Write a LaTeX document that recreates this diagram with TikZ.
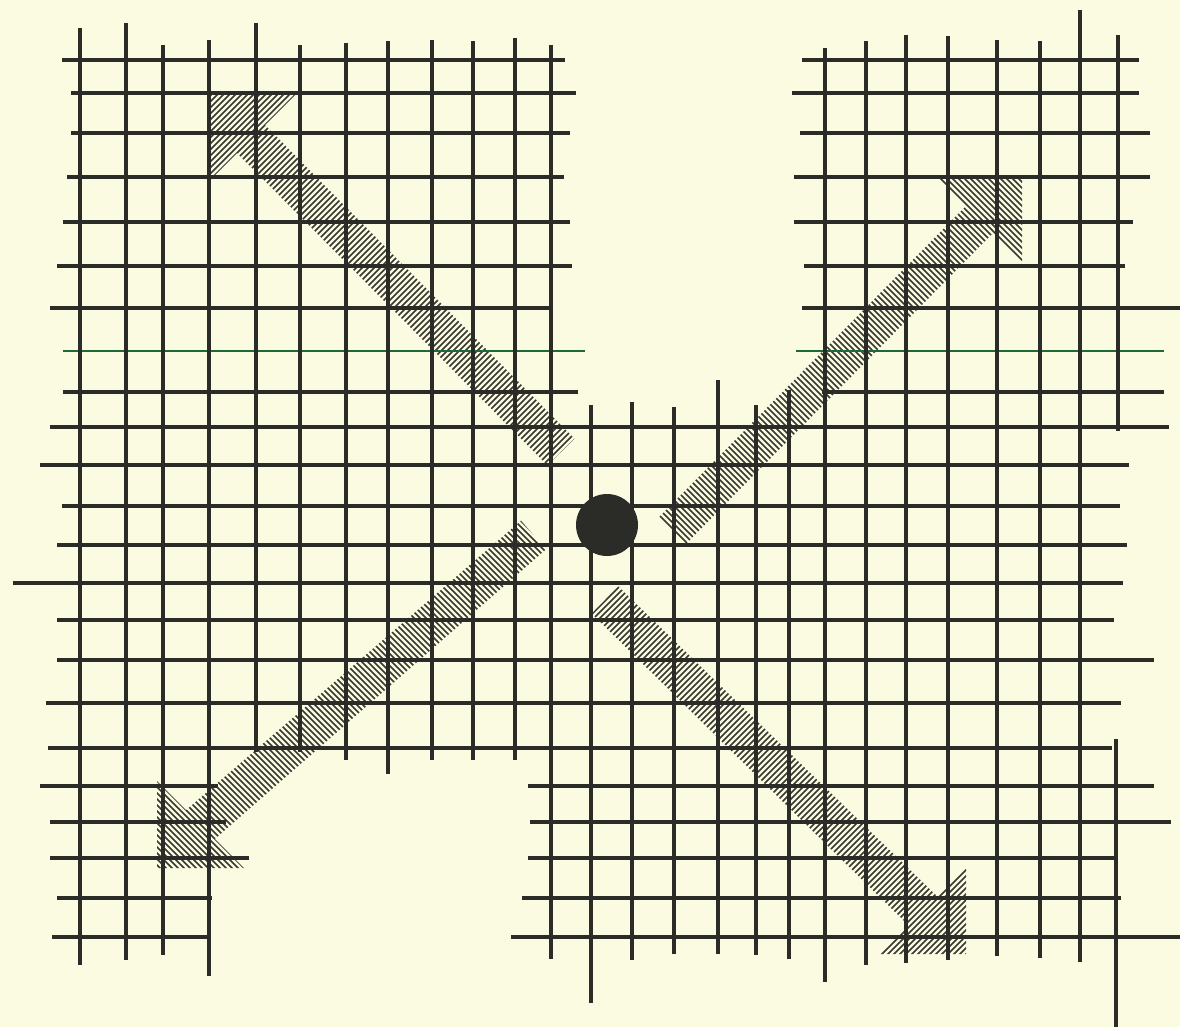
\documentclass[tikz,border=0pt]{standalone}
\begin{document}
\begin{tikzpicture}[x=1pt,y=-1pt]
\definecolor{paper}{RGB}{251,251,226}
\definecolor{ink}{RGB}{43,43,40}
\definecolor{hatchink}{RGB}{55,55,50}
\definecolor{greenink}{RGB}{30,105,60}
\tikzset{
  gridline/.style={draw=ink,line width=3.6pt},
  greenline/.style={draw=greenink,line width=2.2pt},
  hatchline/.style={draw=hatchink,line width=1.6pt}
}
\fill[paper] (0,0) rectangle (1180,1027);
\useasboundingbox (0,0) rectangle (1180,1027);

% ---------- hatched arrows ----------
% upper left
\begin{scope}
\clip (208,95) -- (295,95) -- (265,125) -- (574.5,438.7) -- (547.5,465.3) -- (237,153) -- (208,182) -- cycle;
\foreach \c in {294,300,...,1020} \draw[hatchline] (\c,0) -- ++(-1100,1100);
\end{scope}
% upper right
\begin{scope}
\clip (1022,177) -- (1022,262) -- (993,233) -- (685.5,544.3) -- (658.5,517.7) -- (966,206) -- (937,177) -- cycle;
\foreach \c in {-852,-846,...,-135} \draw[hatchline] (0,\c) -- ++(1200,1200);
\end{scope}
% lower left
\begin{scope}
\clip (157,868) -- (157,781) -- (186.1,810.1) -- (521,520.7) -- (546,549.3) -- (214.9,838.9) -- (244,868) -- cycle;
\foreach \c in {-6,0,...,720} \draw[hatchline] (0,\c) -- ++(1200,1200);
\end{scope}
% lower right
\begin{scope}
\clip (966,954) -- (966,866) -- (936.4,895.6) -- (618.3,586.4) -- (591.7,613.6) -- (907.6,924.4) -- (878,954) -- cycle;
\foreach \c in {1194,1200,...,1926} \draw[hatchline] (\c,0) -- ++(-1100,1100);
\end{scope}

% ---------- horizontal lines ----------
\foreach \y/\a/\b in {
 60/62/565, 60/802/1139,
 93/71/576, 93/792/1139,
 133/71/570, 133/800/1150,
 177/67/564, 177/794/1150,
 222/63/570, 222/794/1133,
 266/57/572, 266/804/1125,
 308/50/551, 308/802/1180,
 392/63/578, 392/822/1164,
 427/50/1169,
 465/40/1129,
 506/62/1120,
 545/57/1127,
 583/13/1123,
 620/57/1114,
 660/57/1154,
 703/46/1121,
 748/48/1112,
 786/40/218, 786/528/1154,
 822/50/226, 822/530/1171,
 858/50/249, 858/528/1114,
 898/57/212, 898/522/1121,
 937/52/210, 937/511/1180}
 \draw[gridline] (\a,\y) -- (\b,\y);
\draw[greenline] (63,351) -- (585,351);
\draw[greenline] (796,351) -- (1164,351);

% ---------- vertical lines ----------
\foreach \x/\a/\b in {
 80/28/965, 126/23/960, 163/45/955, 209/40/976,
 256/23/752, 300/45/752, 346/43/760, 388/41/774,
 432/40/760, 473/41/760, 515/38/760, 551/45/959,
 591/405/1003, 632/402/960, 674/407/954, 718/380/954,
 756/405/955, 789/390/959,
 825/48/982, 866/41/965, 906/35/963, 948/36/960,
 997/40/956, 1040/41/958, 1080/10/962,
 1118/35/431, 1116/739/1027}
 \draw[gridline] (\x,\a) -- (\x,\b);

% ---------- central dot ----------
\fill[ink] (607,525) circle (31);
\end{tikzpicture}
\end{document}
